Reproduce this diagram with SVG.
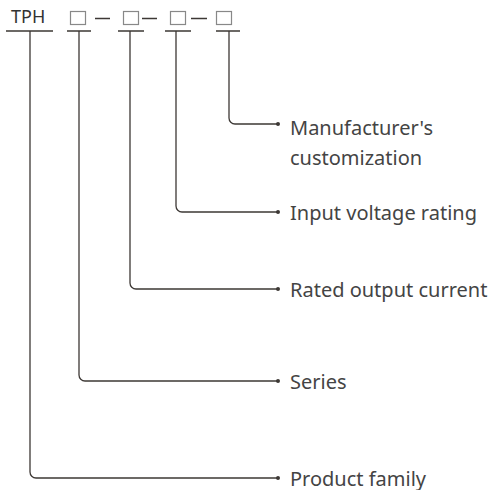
<svg xmlns="http://www.w3.org/2000/svg" width="493" height="490" viewBox="0 0 493 490">
<style>
.t{font-family:"Noto Sans","Open Sans",sans-serif;font-size:20px;fill:#444}
.h{font-family:"Noto Sans","Open Sans",sans-serif;font-size:18px;fill:#333}
.ln{fill:none;stroke:#3d3835;stroke-width:1.3}
.bx{fill:none;stroke:#888;stroke-width:1.2}
.dot{fill:#3d3835}
</style>
<rect width="493" height="490" fill="#fff"/>
<g id="code">
<text class="h" x="11" y="23">TPH</text>
<rect class="bx" x="70.5" y="11.5" width="15" height="13"/>
<rect class="bx" x="123.5" y="11.5" width="15" height="13"/>
<rect class="bx" x="170.5" y="11.5" width="15" height="13"/>
<rect class="bx" x="216.5" y="11.5" width="15" height="13"/>
<path class="ln" d="M95 18.5H110M142 18.5H157M191 18.5H207"/>
<path class="ln" d="M6 31H53M67 31H91M118 31H144M165 31H191M216 31H240"/>
</g>
<g id="connectors">
<path class="ln" d="M229 31V118a6 6 0 0 0 6 6H278"/>
<path class="ln" d="M176 31V206a6 6 0 0 0 6 6H278"/>
<path class="ln" d="M130 31V283a6 6 0 0 0 6 6H278"/>
<path class="ln" d="M79 31V375a6 6 0 0 0 6 6H278"/>
<path class="ln" d="M30 31V472a6 6 0 0 0 6 6H278"/>
<circle class="dot" cx="278" cy="124" r="2"/>
<circle class="dot" cx="278" cy="212" r="2"/>
<circle class="dot" cx="278" cy="289" r="2"/>
<circle class="dot" cx="278" cy="381" r="2"/>
<circle class="dot" cx="278" cy="478" r="2"/>
</g>
<g id="n-manufacturer"><text class="t" x="290" y="135">Manufacturer's</text><text class="t" x="290" y="165">customization</text></g>
<g id="n-input"><text class="t" x="290" y="219.5">Input voltage rating</text></g>
<g id="n-rated"><text class="t" x="290" y="296.5">Rated output current</text></g>
<g id="n-series"><text class="t" x="290" y="388.5">Series</text></g>
<g id="n-family"><text class="t" x="290" y="485.5">Product family</text></g>
</svg>
